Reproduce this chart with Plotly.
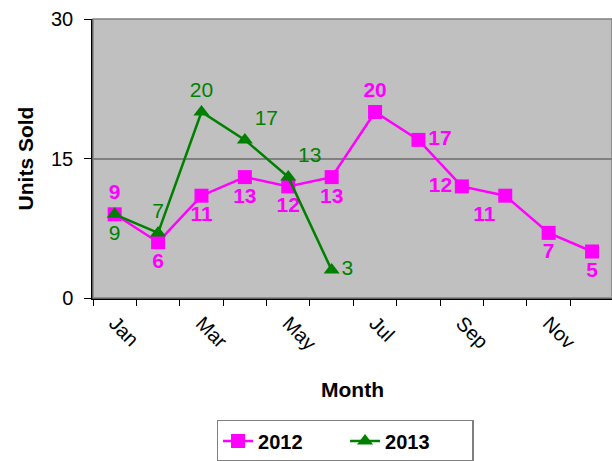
import plotly.graph_objects as go

months = ["Jan", "Feb", "Mar", "Apr", "May", "Jun", "Jul", "Aug", "Sep", "Oct", "Nov", "Dec"]
tick_labels = ["Jan", "", "Mar", "", "May", "", "Jul", "", "Sep", "", "Nov", ""]
sales_2012 = [9, 6, 11, 13, 12, 13, 20, 17, 12, 11, 7, 5]
sales_2013 = [9, 7, 20, 17, 13, 3]

pos_2012 = ["top center", "bottom center", "bottom center", "bottom center", "bottom center",
            "bottom center", "top center", "middle right", "middle left", "bottom left",
            "bottom center", "bottom center"]
pos_2013 = ["bottom center", "top center", "top center", "top right", "top right", "middle right"]

FONT = "Liberation Sans, Arial, sans-serif"
MAGENTA = "#FF00FF"
GREEN = "#008000"

fig = go.Figure()
fig.add_trace(go.Scatter(
    x=months, y=sales_2012, name="2012", mode="lines+markers+text",
    line=dict(color=MAGENTA, width=2.5),
    marker=dict(symbol="square", size=14, color=MAGENTA),
    text=[str(v) for v in sales_2012], textposition=pos_2012,
    textfont=dict(family=FONT, size=21, color=MAGENTA, weight="bold"),
    cliponaxis=False,
))
fig.add_trace(go.Scatter(
    x=months[:len(sales_2013)], y=sales_2013, name="2013", mode="lines+markers+text",
    line=dict(color=GREEN, width=2.5),
    marker=dict(symbol="triangle-up", size=14, color=GREEN),
    text=[str(v) for v in sales_2013], textposition=pos_2013,
    textfont=dict(family=FONT, size=21, color=GREEN),
    cliponaxis=False,
))

fig.add_shape(type="rect", xref="paper", yref="paper", x0=0, y0=0, x1=1, y1=1,
              line=dict(color="#808080", width=1.5), layer="above")

fig.update_layout(
    width=612, height=461,
    margin=dict(l=93, r=0, t=19, b=163, autoexpand=False),
    paper_bgcolor="white", plot_bgcolor="#C0C0C0",
    font=dict(family=FONT, size=20, color="black"),
    showlegend=True,
    legend=dict(
        orientation="h", x=0.238, y=-0.437, xanchor="left", yanchor="top",
        bordercolor="#808080", borderwidth=1.5, bgcolor="white",
        font=dict(family=FONT, size=20, color="black", weight="bold"),
        entrywidth=82,
    ),
    xaxis=dict(
        type="category", categoryorder="array", categoryarray=months,
        range=[-0.5, 11.46], automargin=False,
        tickmode="array", tickvals=months, ticktext=tick_labels,
        tickson="boundaries", ticks="outside", ticklen=6, tickcolor="black",
        tickangle=45, tickfont=dict(family=FONT, size=20), ticklabelstandoff=4,
        showline=True, linecolor="black", linewidth=1.5,
        showgrid=False, zeroline=False,
        title=dict(text="Month", font=dict(family=FONT, size=21, weight="bold"), standoff=29),
    ),
    yaxis=dict(
        range=[0, 30], tickmode="array", tickvals=[0, 15, 30], automargin=False,
        ticks="outside", ticklen=7, tickcolor="black",
        tickfont=dict(family=FONT, size=20), ticklabelstandoff=7,
        showline=True, linecolor="black", linewidth=1.5,
        showgrid=True, gridcolor="#808080", gridwidth=1.5, zeroline=False,
        title=dict(text="Units Sold", font=dict(family=FONT, size=21, weight="bold"), standoff=12),
    ),
)

fig.write_html("out.html", config={"displayModeBar": False},
               post_script="document.body.style.margin='0';")
